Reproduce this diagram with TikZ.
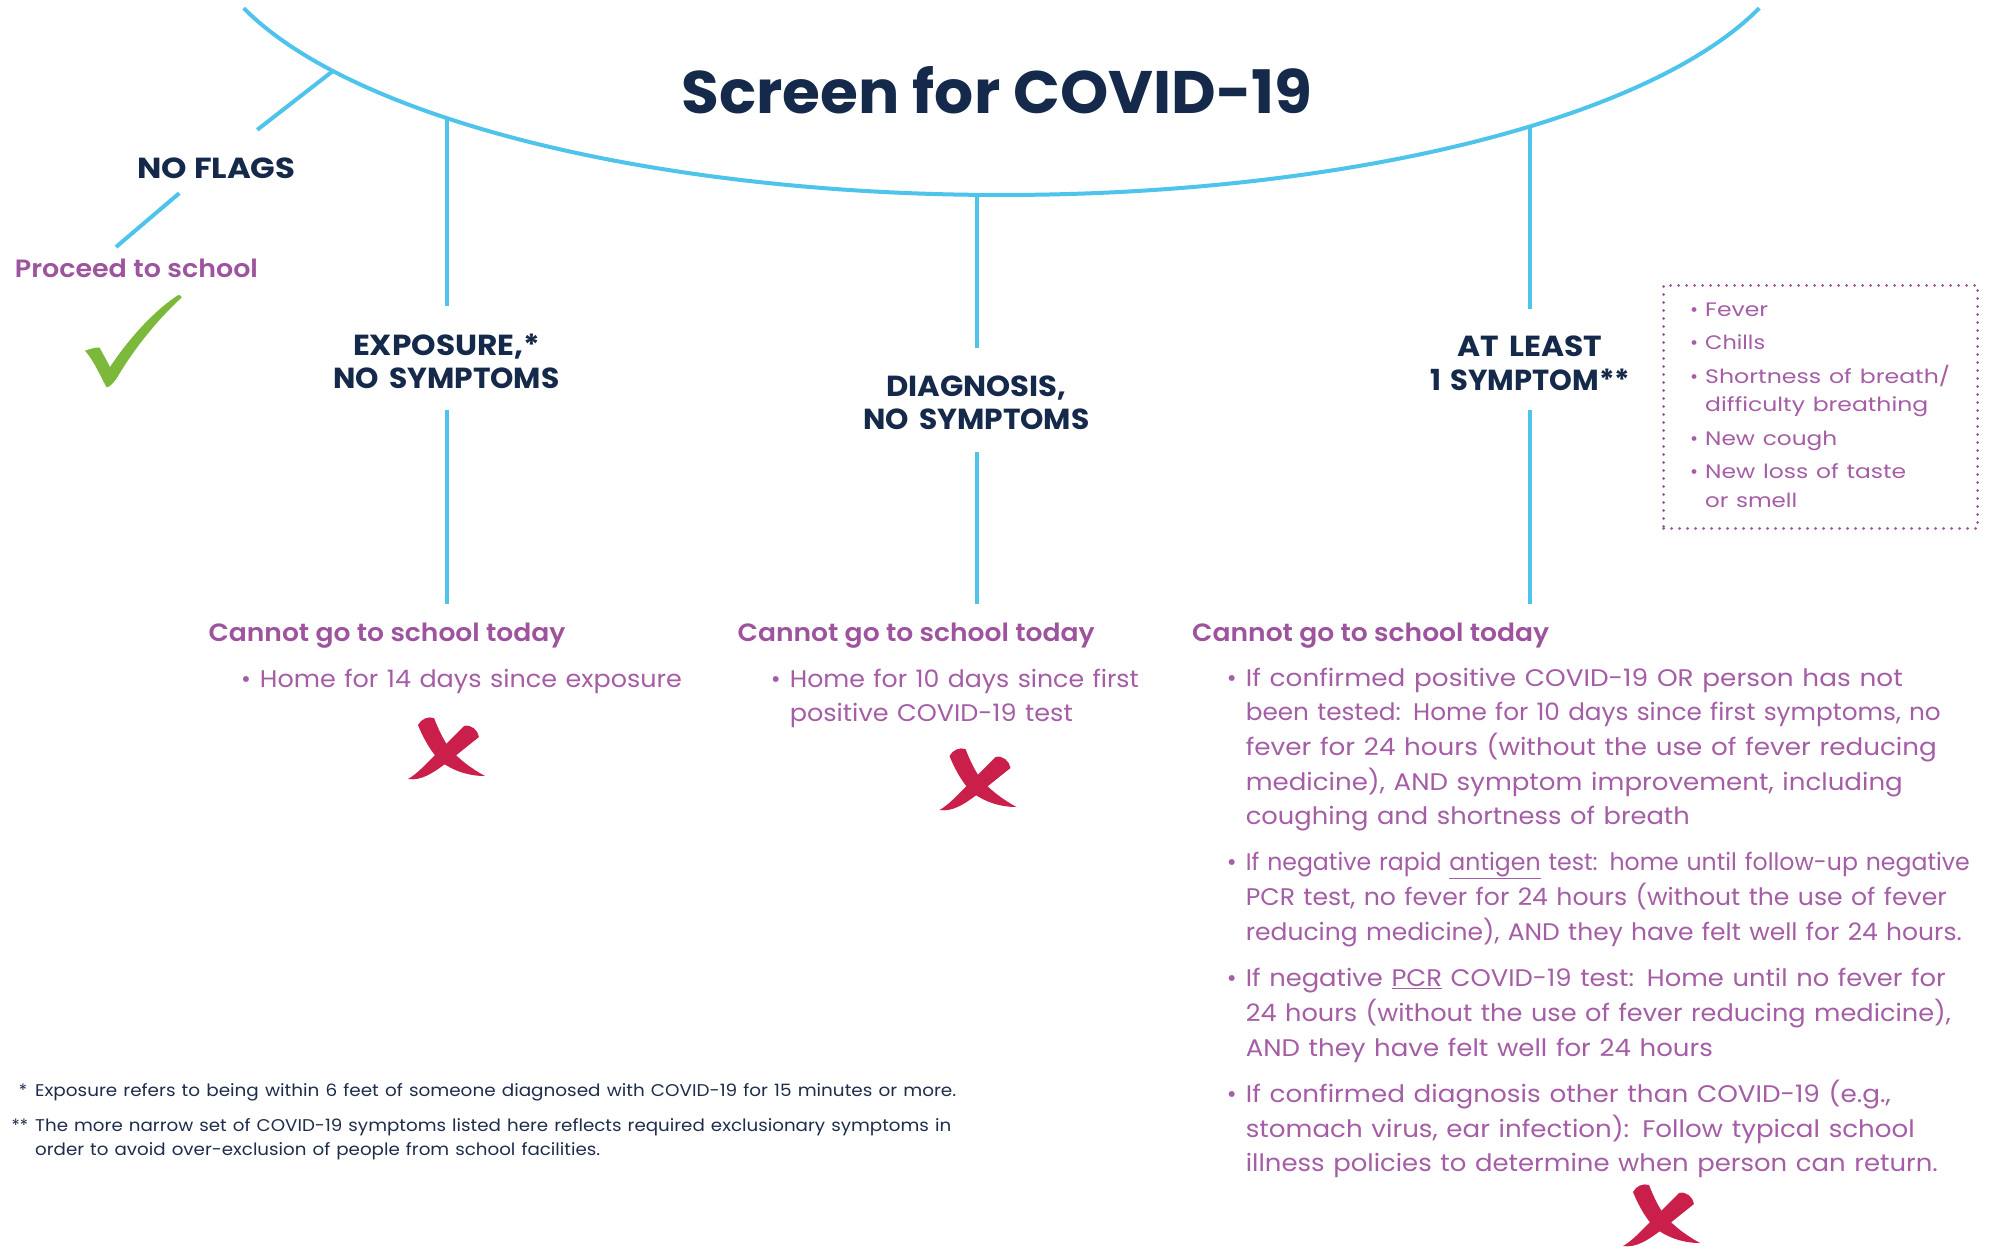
\documentclass[tikz,border=0pt]{standalone}
\usepackage{fontspec}
\usepackage{graphicx}
\setmainfont{Poppins}
\newfontfamily\pop{Poppins}
\IfFontExistsTF{Poppins SemiBold}{\newfontfamily\popsemi{Poppins SemiBold}}{\newcommand\popsemi{\pop\bfseries}}
\IfFontExistsTF{Poppins Bold}{\newfontfamily\popbold{Poppins Bold}}{\newcommand\popbold{\pop\bfseries}}
\definecolor{navy}{HTML}{15294B}
\definecolor{plum}{HTML}{9E539E}
\definecolor{plumlt}{HTML}{A55DA6}
\definecolor{skyb}{HTML}{4EC3EC}
\definecolor{leaf}{HTML}{7CB93B}
\definecolor{crim}{HTML}{CB1F4B}
\definecolor{fnote}{HTML}{1F2D4C}
\newcommand\W[2]{\resizebox{#1pt}{\height}{#2}}
\newcommand\bul{\leavevmode\llap{\textbullet\hspace{9pt}}}
\newcommand\buls{\leavevmode\llap{\textbullet\hspace{7pt}}}
\tikzset{pics/xmark/.style={code={
 \fill[crim] (-27,-30) .. controls (-21,-15) and (-13,-2) .. (-5,6) .. controls (8,16) and (24,21) .. (40,21) .. controls (27,14) and (15,5) .. (6,-5) .. controls (-2,-15) and (-7,-27) .. (-11,-37) .. controls (-17,-39) and (-24,-36) .. (-27,-30) -- cycle;
 \fill[crim] (19,-29) .. controls (9,-19) and (-1,-9) .. (-9,-1) .. controls (-19,9) and (-28,19) .. (-37,24) .. controls (-24,26) and (-12,18) .. (0,9) .. controls (13,-1) and (25,-11) .. (34,-18) .. controls (33,-25) and (26,-31) .. (19,-29) -- cycle;
}}}
\begin{document}
\begin{tikzpicture}[x=1pt,y=-1pt,
  blueline/.style={draw=skyb,line width=4pt},
  ttl/.style={font=\popbold\fontsize{60}{70}\selectfont,text=navy,inner sep=0pt},
  head/.style={font=\popbold\fontsize{29}{33.5}\selectfont,text=navy,inner sep=0pt,text width=320pt,align=center},
  cannot/.style={font=\popsemi\fontsize{25}{30}\selectfont,text=plum,inner sep=0pt},
  body/.style={font=\pop\fontsize{24}{34.7}\selectfont,text=plumlt,inner sep=0pt,text width=760pt,align=left},
  symp/.style={font=\pop\fontsize{19.5}{28.5}\selectfont,text=plumlt,inner sep=0pt,text width=300pt,align=left},
  foot/.style={font=\pop\fontsize{17}{24}\selectfont,text=fnote,inner sep=0pt,text width=1000pt,align=left},
  dotbox/.style={draw=plum,line width=3pt,dash pattern=on 0pt off 8pt,line cap=round,inner sep=0pt}
]
\useasboundingbox (0,0) rectangle (1997,1251);
\fill[white] (0,0) rectangle (1997,1251);
\clip (0,0) rectangle (1997,1251);

% big arc
\draw[blueline] plot[domain=18.7:161.3,samples=150,smooth] ({1001.5+800*cos(\x)},{-80+275*sin(\x)});
\coordinate (aNF) at (332.9,71);
\coordinate (aE) at (446.5,118.1);
\coordinate (aD) at (976.5,194.9);
\coordinate (aS) at (1530,126.5);

% title
\node[ttl,anchor=base] (title) at (997,113) {\W{631}{Screen for COVID-19}};

% no flags branch
\node[font=\popbold\fontsize{29}{33.5}\selectfont,text=navy,inner sep=0pt,anchor=base,text height=48pt,text depth=15pt] (nf) at (216.5,178) {\W{158}{NO FLAGS}};
\coordinate (nfEnd) at (116,247);
\draw[blueline] (aNF) -- (nf);
\draw[blueline] (nf) -- (nfEnd);
\node[font=\popsemi\fontsize{25}{30}\selectfont,text=plum,inner sep=0pt,anchor=base west] (proceed) at (14.7,277) {\W{243}{Proceed to school}};
\fill[leaf] (85,350.7) .. controls (90,349) and (96,347) .. (99.5,347.5) .. controls (103,354) and (107,361) .. (110,367) .. controls (130,337) and (155,310) .. (178.3,295) .. controls (180,295) and (182,296) .. (181.7,297.5) .. controls (155,322) and (132,352) .. (116.7,378.3) .. controls (113,383) and (110,387) .. (106.7,387.3) .. controls (102,380) and (95,362) .. (85,350.7) -- cycle;

% headings on the branches
\node[head,anchor=base] (hE) at (446.5,355) {\W{187}{EXPOSURE,*}\\\W{226}{NO SYMPTOMS}};
\node[head,anchor=base] (hD) at (976.5,396) {\W{180}{DIAGNOSIS,}\\\W{226}{NO SYMPTOMS}};
\node[head,anchor=base] (hS) at (1530,356.5) {\W{145}{AT LEAST}\\\W{200}{1 SYMPTOM**}};
\coordinate (eE) at (446.5,604);
\coordinate (eD) at (976.5,604);
\coordinate (eS) at (1530,604);
\draw[blueline] (aE) -- ([yshift=27pt]hE.north);
\draw[blueline] ([yshift=-21pt]hE.south) -- (eE);
\draw[blueline] (aD) -- ([yshift=27pt]hD.north);
\draw[blueline] ([yshift=-22pt]hD.south) -- (eD);
\draw[blueline] (aS) -- ([yshift=27pt]hS.north);
\draw[blueline] ([yshift=-20pt]hS.south) -- (eS);

% symptom box
\node[dotbox,minimum width=314pt,minimum height=243pt,anchor=north west] (sbox) at (1662,284) {};
\node[symp,anchor=base west] (slist) at (1705,316) {\buls\W{63}{Fever}\\[5pt]\buls\W{60}{Chills}\\[5pt]\buls\W{245}{Shortness of breath/}\\\W{223}{difficulty breathing}\\[5pt]\buls\W{132}{New cough}\\[5pt]\buls\W{201}{New loss of taste}\\\W{92}{or smell}};

% column 1
\node[cannot,anchor=base west] (c1) at (208.3,641) {\W{357}{Cannot go to school today}};
\node[body,anchor=base west] (b1) at (259.7,687) {\bul\W{422}{Home for 14 days since exposure}};
\pic (x1) at (445,755) {xmark};

% column 2
\node[cannot,anchor=base west] (c2) at (737.4,641) {\W{357}{Cannot go to school today}};
\node[body,anchor=base west] (b2) at (789.6,687) {\bul\W{349}{Home for 10 days since first}\\\W{283}{positive COVID-19 test}};
\pic (x2) at (976.5,786) {xmark};

% column 3
\node[cannot,anchor=base west] (c3) at (1192,641) {\W{357}{Cannot go to school today}};
\node[body,anchor=base west] (p1) at (1245.6,686) {\bul\W{657}{If confirmed positive COVID-19 OR person has not}\\\W{695}{been tested: Home for 10 days since first symptoms, no}\\\W{691}{fever for 24 hours (without the use of fever reducing}\\\W{657}{medicine), AND symptom improvement, including}\\\W{444}{coughing and shortness of breath}};
\node[body,anchor=base west] (p2) at (1245.6,870.7) {\bul\W{724}{If negative rapid \underline{antigen} test: home until follow-up negative}\\\W{701}{PCR test, no fever for 24 hours (without the use of fever}\\\W{716}{reducing medicine), AND they have felt well for 24 hours.}};
\node[body,anchor=base west] (p3) at (1245.6,986.6) {\bul\W{700}{If negative \underline{PCR} COVID-19 test: Home until no fever for}\\\W{705}{24 hours (without the use of fever reducing medicine),}\\\W{467}{AND they have felt well for 24 hours}};
\node[body,anchor=base west] (p4) at (1245.6,1102.5) {\bul\W{645}{If confirmed diagnosis other than COVID-19 (e.g.,}\\\W{669}{stomach virus, ear infection): Follow typical school}\\\W{692}{illness policies to determine when person can return.}};
\pic (x3) at (1660,1222) {xmark};

% footnotes
\node[foot,anchor=base west] (fn1) at (35,1096) {\llap{*\hspace{8pt}}\W{921}{Exposure refers to being within 6 feet of someone diagnosed with COVID-19 for 15 minutes or more.}};
\node[foot,anchor=base west] (fn2) at (35,1131) {\llap{**\hspace{7pt}}\W{916}{The more narrow set of COVID-19 symptoms listed here reflects required exclusionary symptoms in}\\\W{565}{order to avoid over-exclusion of people from school facilities.}};
\end{tikzpicture}
\end{document}
